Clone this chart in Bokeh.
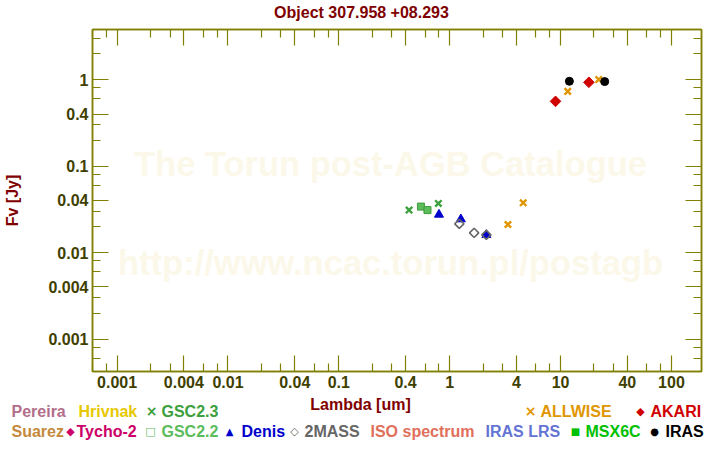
import numpy as np
from bokeh.plotting import figure
from bokeh.layouts import column
from bokeh.models import Range1d, FixedTicker, LogAxis, Label, CustomJSTickFormatter
from bokeh.core.properties import value
from bokeh.embed import file_html
from bokeh.resources import INLINE

# ---------------- data ----------------
gsc23_lam = [0.43, 0.79]
gsc23_f = [0.031, 0.037]
gsc22_lam = [0.55, 0.63]
gsc22_f = [0.034, 0.031]
denis_lam = [0.80, 1.26, 2.14]
denis_f = [0.0275, 0.0243, 0.016]
mass2_lam = [1.22, 1.66, 2.14]
mass2_f = [0.0215, 0.0169, 0.016]
allwise_lam = [3.35, 4.6, 11.6, 22.1]
allwise_f = [0.0211, 0.0376, 0.73, 1.0]
akari_lam = [9.0, 18.0]
akari_f = [0.56, 0.93]
iras_lam = [12.0, 25.0]
iras_f = [0.956, 0.948]

x_major = [0.001, 0.004, 0.01, 0.04, 0.1, 0.4, 1, 4, 10, 40, 100]
y_major = [0.001, 0.004, 0.01, 0.04, 0.1, 0.4, 1]
decades = [1e-4, 1e-3, 1e-2, 1e-1, 1, 10, 100]
minor_mult = [2, 3, 6, 8]

title_text = "Object 307.958 +08.293"
xlabel_text = "Lambda [um]"
ylabel_text = "Fv [Jy]"
watermark1 = "The Torun post-AGB Catalogue"
watermark2 = "http://www.ncac.torun.pl/postagb"

# legend entries: (label, colour, marker char or "")
legend_row1 = [("Pereira", "#b26e8a", ""), ("Hrivnak", "#e6c800", ""),
               ("GSC2.3", "#3ca03c", "×"), ("ALLWISE", "#e09600", "×"),
               ("AKARI", "#d00000", "◆")]
legend_row2 = [("Suarez", "#c48a3c", ""), ("Tycho-2", "#cc0066", "◆"),
               ("GSC2.2", "#5cbc5c", "□"), ("Denis", "#0000cc", "▲"),
               ("2MASS", "#666666", "◇"), ("ISO spectrum", "#e0705c", ""),
               ("IRAS LRS", "#6474d4", ""), ("MSX6C", "#00c000", "■"),
               ("IRAS", "#000000", "●")]

# ---------------- layout constants ----------------
W, H = 720, 450
FL, FR, FT, FB = 92, 701, 29, 371
TOP_H = 26            # title strip height
MAIN_BOTTOM = 397     # canvas y where main figure ends
OLIVE = "#808000"
TICKTXT = "#3f3f00"
DARKRED = "#800000"
FONT = "Liberation Sans"

minor = [d * m for d in decades for m in minor_mult]

# ---------------- title strip ----------------
top = figure(width=W, height=TOP_H, x_range=Range1d(0, W), y_range=Range1d(TOP_H, 0),
             output_backend="svg", toolbar_location=None, frame_align=False,
             x_axis_type=None, y_axis_type=None, min_border=0)
top.grid.visible = False
top.outline_line_color = None
top.text(x=[361], y=[12], text=[title_text], text_color=DARKRED,
         text_font=value(FONT), text_font_style="bold", text_font_size="16px",
         text_align="center", text_baseline="middle")

# ---------------- main plot ----------------
p = figure(width=W, height=MAIN_BOTTOM - TOP_H, x_axis_type="log", y_axis_type="log",
           x_range=Range1d(10 ** -3.222, 10 ** 2.271),
           y_range=Range1d(10 ** -3.375, 10 ** 0.579),
           output_backend="svg", toolbar_location=None, frame_align=False,
           min_border_left=FL, min_border_right=W - FR,
           min_border_top=FT - TOP_H, min_border_bottom=MAIN_BOTTOM - FB)
p.grid.visible = False
p.outline_line_color = OLIVE
p.outline_line_width = 1.5

fmt = CustomJSTickFormatter(code="return tick.toString();")


def style_axis(ax, ticks, show_labels):
    ax.ticker = FixedTicker(ticks=ticks, minor_ticks=minor)
    ax.formatter = fmt
    ax.axis_line_color = OLIVE
    ax.axis_line_width = 1.5
    ax.major_tick_line_color = OLIVE
    ax.minor_tick_line_color = OLIVE
    ax.major_tick_line_width = 1.2
    ax.minor_tick_line_width = 1.2
    ax.major_tick_in = 16
    ax.major_tick_out = 0
    ax.minor_tick_in = 8
    ax.minor_tick_out = 0
    ax.major_label_text_font = FONT
    ax.major_label_text_font_style = "bold"
    if show_labels:
        ax.major_label_text_color = TICKTXT
        ax.major_label_text_font_size = "16px"
        ax.major_label_standoff = 4
    else:
        ax.major_label_text_color = None
        ax.major_label_text_font_size = "0px"
        ax.major_label_standoff = 0


style_axis(p.xaxis[0], x_major, True)
style_axis(p.yaxis[0], y_major, True)
p.yaxis[0].axis_label = ylabel_text
p.yaxis[0].axis_label_text_color = DARKRED
p.yaxis[0].axis_label_text_font = FONT
p.yaxis[0].axis_label_text_font_style = "bold"
p.yaxis[0].axis_label_text_font_size = "16px"
p.yaxis[0].axis_label_standoff = 24

top_ax = LogAxis()
right_ax = LogAxis()
style_axis(top_ax, x_major, False)
style_axis(right_ax, y_major, False)
p.add_layout(top_ax, "above")
p.add_layout(right_ax, "right")

# watermark (screen units are relative to the plot frame)
for txt, cy in [(watermark1, 163), (watermark2, 262)]:
    p.add_layout(Label(x=390 - FL, y=FB - cy, x_units="screen", y_units="screen",
                       text=txt, text_color="#fbf8ea", text_font=FONT,
                       text_font_size="34.5px", text_font_style="bold",
                       text_align="center", text_baseline="middle"))

# data
p.scatter(gsc23_lam, gsc23_f, marker="x", size=9, line_width=2.4, line_color="#3ca03c")
p.scatter(gsc22_lam, gsc22_f, marker="square", size=7, line_color="#3c9c3c",
          fill_color="#5cbc5c", line_width=1)
p.scatter(denis_lam, denis_f, marker="triangle", size=9, line_color="#0000cc",
          fill_color="#0000cc")
p.scatter(mass2_lam, mass2_f, marker="square", angle=np.pi / 4, size=6.5,
          line_color="#666666", fill_color=None, line_width=1.6)
p.scatter(allwise_lam, allwise_f, marker="x", size=9, line_width=2.4, line_color="#e09600")
p.scatter(akari_lam, akari_f, marker="square", angle=np.pi / 4, size=7.5,
          line_color="#d00000", fill_color="#d00000")
p.scatter(iras_lam, iras_f, marker="circle", size=8, line_color="black", fill_color="black")

# ---------------- bottom strip: x label and legend ----------------
bot = figure(width=W, height=H - MAIN_BOTTOM, x_range=Range1d(0, W),
             y_range=Range1d(H, MAIN_BOTTOM),
             output_backend="svg", toolbar_location=None, frame_align=False,
             x_axis_type=None, y_axis_type=None, min_border=0)
bot.grid.visible = False
bot.outline_line_color = None

bot.text(x=[360], y=[404], text=[xlabel_text], text_color=DARKRED,
         text_font=value(FONT), text_font_style="bold", text_font_size="16px",
         text_align="center", text_baseline="middle")

row1_x = [11, 78, 161, 540, 650]
row1_mx = [None, None, 151, 530, 640]
row2_x = [11, 76, 161, 241, 304, 370, 485, 585, 665]
row2_mx = [None, 70, 150, 229, 294, None, None, 575, 654]
marker_sizes = {"×": "14px", "◆": "11px", "□": "11px", "▲": "10px",
                "◇": "11px", "■": "10px", "●": "10px"}

for entries, xs, mxs, cy in [(legend_row1, row1_x, row1_mx, 410.7),
                             (legend_row2, row2_x, row2_mx, 430.7)]:
    bot.text(x=xs, y=[cy] * len(xs), text=[e[0] for e in entries],
             text_color=[e[1] for e in entries],
             text_font=value(FONT), text_font_style="bold", text_font_size="16px",
             text_align="left", text_baseline="middle")
    for (lbl, col, mk), mx in zip(entries, mxs):
        if mk:
            bot.text(x=[mx], y=[cy], text=[mk], text_color=col,
                     text_font=value("DejaVu Sans"), text_font_style="bold",
                     text_font_size=marker_sizes[mk],
                     text_align="center", text_baseline="middle")

layout = column(top, p, bot, spacing=0)
open("out.html", "w").write(file_html(layout, INLINE))
